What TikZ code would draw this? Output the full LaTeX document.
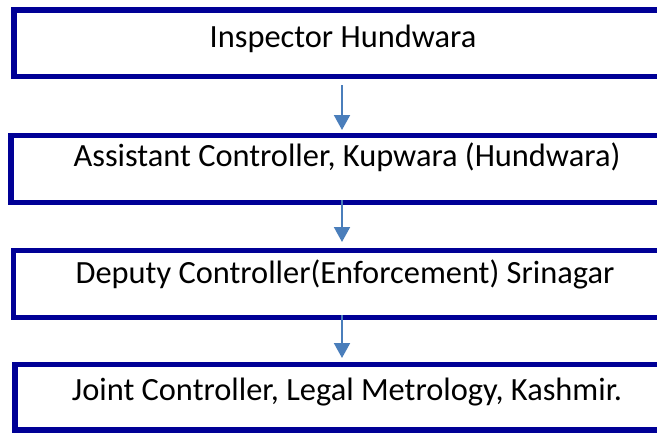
\documentclass[tikz,border=0pt]{standalone}
\usepackage{fontspec}
\setmainfont{Carlito}
\usetikzlibrary{arrows.meta}
\definecolor{navy}{RGB}{0,0,150}
\definecolor{arrowblue}{RGB}{74,126,187}
\tikzset{
  box/.style={draw=navy, line width=5.5pt, rectangle, anchor=west, minimum width=700pt, inner sep=0pt},
  lbl/.style={anchor=base, font=\fontsize{32.4}{38}\selectfont, text=black, inner sep=0pt},
  flow/.style={draw=arrowblue, line width=2pt, -{Triangle[width=16pt,length=15pt]}}
}
\begin{document}
\begin{tikzpicture}[x=1pt,y=-1pt]
\useasboundingbox (0,0) rectangle (657,432);
\clip (0,0) rectangle (657,432);
\node[box, minimum height=66.5pt] (b1) at (11,43.25) {};
\node[box, minimum height=67pt] (b2) at (8,169) {};
\node[box, minimum height=67pt] (b3) at (10.5,284) {};
\node[box, minimum height=65.5pt] (b4) at (12,397.25) {};
\node[lbl] (t1) at (343,47) {Inspector Hundwara};
\node[lbl] (t2) at (347,166) {Assistant Controller, Kupwara (Hundwara)};
\node[lbl] (t3) at (345,283) {Deputy Controller(Enforcement) Srinagar};
\node[lbl] (t4) at (347,400) {Joint Controller, Legal Metrology, Kashmir.};
\coordinate (a1s) at (342,85); \coordinate (a1e) at (342,130);
\coordinate (a2s) at (342,200); \coordinate (a2e) at (342,242);
\coordinate (a3s) at (342,315); \coordinate (a3e) at (342,358);
\draw[flow] (a1s) -- (a1e);
\draw[flow] (a2s) -- (a2e);
\draw[flow] (a3s) -- (a3e);
\end{tikzpicture}
\end{document}
